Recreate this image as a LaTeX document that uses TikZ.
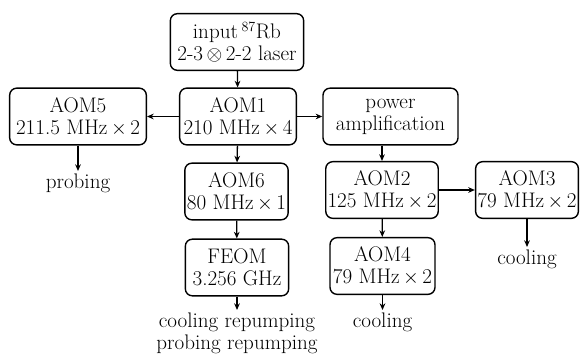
\documentclass[tikz,border=0pt]{standalone}
\usepackage{amsmath,amssymb}
\usepackage{tikz}
\usetikzlibrary{arrows.meta, positioning}

\begin{document}
\begin{tikzpicture}[
  x=0.03cm, y=-0.03cm,
  >={Stealth[length=2mm, width=1.7mm]},
  every node/.style={font=\fontsize{18}{18.6}\selectfont},
  aombox/.style={draw=black, line width=1.2pt, rounded corners=6pt, align=center,
                 inner xsep=1.5pt, minimum height=1.7cm},
  outtxt/.style={align=center, inner sep=2pt, anchor=north},
  flow/.style={->, line width=1.1pt}
]
\useasboundingbox (0,0) rectangle (580,354);
% source and first modulator
\node[aombox, minimum width=4.0cm] (laser) at (237,42)
  {input\,$^{87}$Rb\\2-3\,$\otimes$\,2-2 laser};
\node[aombox, minimum width=3.5cm] (aom1) at (238,116.5) {AOM1\\210 MHz\,$\times$\,4};
\node[aombox, minimum width=4.1cm] (aom5) at (78,116.5) {AOM5\\211.5 MHz\,$\times$\,2};
\node[aombox, minimum width=4.05cm] (amp) at (390.5,116.5) {power\\amplification};
% repumping branch
\node[aombox, minimum width=3.1cm] (aom6) at (236.5,191.5) {AOM6\\80 MHz\,$\times$\,1};
\node[aombox, minimum width=3.1cm] (feom) at (237,267.5) {FEOM\\3.256 GHz};
% cooling branch
\node[aombox, minimum width=3.3cm] (aom2) at (382,190) {AOM2\\125 MHz\,$\times$\,2};
\node[aombox, minimum width=3.15cm] (aom4) at (382.5,266) {AOM4\\79 MHz\,$\times$\,2};
\node[aombox, minimum width=3.05cm] (aom3) at (527,190) {AOM3\\79 MHz\,$\times$\,2};
% outputs
\node[outtxt] (probe) at (78,171) {probing};
\node[outtxt] (repump) at (237,310) {cooling repumping\\probing repumping};
\node[outtxt] (cool4) at (382.5,310) {cooling};
\node[outtxt] (cool3) at (527,247) {cooling};
\draw[flow] (laser) -- (aom1);
\draw[flow] (aom1) -- (aom5);
\draw[flow] (aom1) -- (amp);
\draw[flow] (aom1) -- (aom6);
\draw[flow] (aom6) -- (feom);
\draw[flow] (feom) -- (repump);
\draw[flow] (aom5) -- (probe);
\draw[flow] (amp.south -| aom2.north) -- (aom2.north);
\draw[flow] (aom2) -- (aom3);
\draw[flow] (aom2) -- (aom4);
\draw[flow] (aom4) -- (cool4);
\draw[flow] (aom3) -- (cool3);
\end{tikzpicture}
\end{document}
